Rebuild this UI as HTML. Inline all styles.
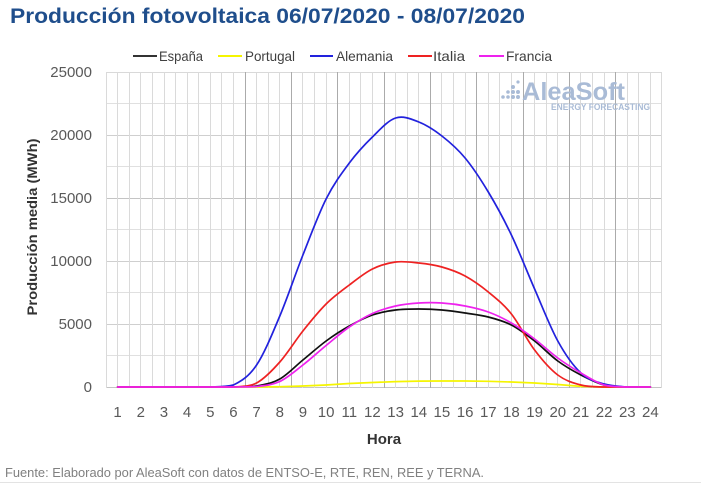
<!DOCTYPE html>
<html><head><meta charset="utf-8"><style>
html,body{margin:0;padding:0;background:#fff;}
svg{display:block;}
text{font-family:"Liberation Sans",sans-serif;}
</style></head><body>
<svg width="701" height="484" viewBox="0 0 701 484" xmlns="http://www.w3.org/2000/svg">
<rect width="701" height="484" fill="#fff"/>
<text x="10" y="23" font-size="21" font-weight="bold" fill="#1f4e8c" textLength="515" lengthAdjust="spacingAndGlyphs">Producción fotovoltaica 06/07/2020 - 08/07/2020</text>

<!-- legend -->
<g stroke-width="2">
<line x1="133" y1="56" x2="157" y2="56" stroke="#333"/>
<line x1="218" y1="56" x2="242" y2="56" stroke="#f5f500"/>
<line x1="310" y1="56" x2="333" y2="56" stroke="#2222dd"/>
<line x1="408" y1="56" x2="432" y2="56" stroke="#ee2222"/>
<line x1="479" y1="56" x2="504" y2="56" stroke="#ee22ee"/>
</g>
<g font-size="14" fill="#404040">
<text x="159" y="61" textLength="44" lengthAdjust="spacingAndGlyphs">España</text>
<text x="245" y="61" textLength="50" lengthAdjust="spacingAndGlyphs">Portugal</text>
<text x="336" y="61" textLength="57" lengthAdjust="spacingAndGlyphs">Alemania</text>
<text x="433" y="61" textLength="32" lengthAdjust="spacingAndGlyphs">Italia</text>
<text x="506" y="61" textLength="46" lengthAdjust="spacingAndGlyphs">Francia</text>
</g>

<!-- horizontal grid -->
<g stroke-width="1">
<line x1="106" y1="72.5" x2="662" y2="72.5" stroke="#d9d9d9"/>
<line x1="106" y1="103.5" x2="662" y2="103.5" stroke="#e0e0e0"/>
<line x1="106" y1="135.5" x2="662" y2="135.5" stroke="#cfcfcf"/>
<line x1="106" y1="166.5" x2="662" y2="166.5" stroke="#e0e0e0"/>
<line x1="106" y1="198.5" x2="662" y2="198.5" stroke="#c4c4c4"/>
<line x1="106" y1="229.5" x2="662" y2="229.5" stroke="#e0e0e0"/>
<line x1="106" y1="261.5" x2="662" y2="261.5" stroke="#cfcfcf"/>
<line x1="106" y1="292.5" x2="662" y2="292.5" stroke="#e0e0e0"/>
<line x1="106" y1="324.5" x2="662" y2="324.5" stroke="#cfcfcf"/>
<line x1="106" y1="355.5" x2="662" y2="355.5" stroke="#e0e0e0"/>
<line x1="106" y1="387.5" x2="662" y2="387.5" stroke="#c4c4c4"/>
</g>
<!-- vertical grid -->
<g stroke="#dadada" stroke-width="1">
<line x1="106.5" y1="72" x2="106.5" y2="388"/>
<line x1="117.5" y1="72" x2="117.5" y2="388"/>
<line x1="129.5" y1="72" x2="129.5" y2="388"/>
<line x1="140.5" y1="72" x2="140.5" y2="388"/>
<line x1="152.5" y1="72" x2="152.5" y2="388"/>
<line x1="164.5" y1="72" x2="164.5" y2="388"/>
<line x1="175.5" y1="72" x2="175.5" y2="388"/>
<line x1="187.5" y1="72" x2="187.5" y2="388"/>
<line x1="198.5" y1="72" x2="198.5" y2="388"/>
<line x1="210.5" y1="72" x2="210.5" y2="388"/>
<line x1="221.5" y1="72" x2="221.5" y2="388"/>
<line x1="233.5" y1="72" x2="233.5" y2="388"/>
<line x1="256.5" y1="72" x2="256.5" y2="388"/>
<line x1="268.5" y1="72" x2="268.5" y2="388"/>
<line x1="279.5" y1="72" x2="279.5" y2="388"/>
<line x1="302.5" y1="72" x2="302.5" y2="388"/>
<line x1="314.5" y1="72" x2="314.5" y2="388"/>
<line x1="326.5" y1="72" x2="326.5" y2="388"/>
<line x1="349.5" y1="72" x2="349.5" y2="388"/>
<line x1="360.5" y1="72" x2="360.5" y2="388"/>
<line x1="372.5" y1="72" x2="372.5" y2="388"/>
<line x1="395.5" y1="72" x2="395.5" y2="388"/>
<line x1="407.5" y1="72" x2="407.5" y2="388"/>
<line x1="418.5" y1="72" x2="418.5" y2="388"/>
<line x1="441.5" y1="72" x2="441.5" y2="388"/>
<line x1="453.5" y1="72" x2="453.5" y2="388"/>
<line x1="465.5" y1="72" x2="465.5" y2="388"/>
<line x1="488.5" y1="72" x2="488.5" y2="388"/>
<line x1="499.5" y1="72" x2="499.5" y2="388"/>
<line x1="511.5" y1="72" x2="511.5" y2="388"/>
<line x1="534.5" y1="72" x2="534.5" y2="388"/>
<line x1="546.5" y1="72" x2="546.5" y2="388"/>
<line x1="557.5" y1="72" x2="557.5" y2="388"/>
<line x1="580.5" y1="72" x2="580.5" y2="388"/>
<line x1="592.5" y1="72" x2="592.5" y2="388"/>
<line x1="604.5" y1="72" x2="604.5" y2="388"/>
<line x1="627.5" y1="72" x2="627.5" y2="388"/>
<line x1="638.5" y1="72" x2="638.5" y2="388"/>
<line x1="650.5" y1="72" x2="650.5" y2="388"/>
<line x1="661.5" y1="72" x2="661.5" y2="388"/>
</g>
<g stroke="#ababab" stroke-width="1">
<line x1="245.5" y1="72" x2="245.5" y2="388"/>
<line x1="291.5" y1="72" x2="291.5" y2="388"/>
<line x1="337.5" y1="72" x2="337.5" y2="388"/>
<line x1="384.5" y1="72" x2="384.5" y2="388"/>
<line x1="430.5" y1="72" x2="430.5" y2="388"/>
<line x1="476.5" y1="72" x2="476.5" y2="388"/>
<line x1="523.5" y1="72" x2="523.5" y2="388"/>
<line x1="569.5" y1="72" x2="569.5" y2="388"/>
<line x1="615.5" y1="72" x2="615.5" y2="388"/>
</g>

<!-- logo -->
<g fill="#a9bbd6">
<circle cx="503" cy="97" r="1.8"/>
<circle cx="508" cy="97" r="1.8"/>
<circle cx="508" cy="92" r="1.8"/>
<circle cx="513" cy="97" r="2"/>
<circle cx="513" cy="92" r="2"/>
<circle cx="513" cy="87" r="2"/>
<circle cx="518" cy="97" r="2"/>
<circle cx="518" cy="92" r="2"/>
<circle cx="518" cy="82" r="1.6"/>
</g>
<text x="522" y="100" font-size="25" font-weight="bold" fill="#a9bbd6" textLength="103" lengthAdjust="spacingAndGlyphs">AleaSoft</text>
<text x="551" y="110" font-size="9" font-weight="bold" fill="#a9bbd6" textLength="99" lengthAdjust="spacingAndGlyphs">ENERGY FORECASTING</text>

<!-- series -->
<g fill="none" stroke-width="1.7" stroke-linejoin="round" stroke-linecap="round">
<path stroke="#111" d="M117.6,387 L233.4,387 C241.1,386.8 248.9,387 256.6,386 C264.3,384.7 272.1,383.3 279.8,379 C287.5,374.7 295.2,366.3 302.9,360 C310.6,353.7 318.4,346.7 326.1,341 C333.8,335.3 341.6,330.3 349.3,326 C357,321.7 364.7,317.7 372.4,315 C380.1,312.3 387.9,311 395.6,310 C403.3,309 411.1,309 418.8,309 C426.5,309 434.2,309.3 441.9,310 C449.6,310.7 457.4,311.8 465.1,313 C472.8,314.2 480.6,315 488.3,317 C496,319 503.7,321 511.4,325 C519.1,329 526.9,335 534.6,341 C542.3,347 550.1,355.3 557.8,361 C565.5,366.7 573.2,371 580.9,375 C588.6,379 596.4,383 604.1,385 C611.8,387 619.6,386.7 627.3,387 L650.4,387"/>
<path stroke="#f5f500" d="M117.6,387 L256.6,387 L279.8,386.7 L302.9,386 L326.1,385 L349.3,383.5 L372.4,382.5 L395.6,381.6 L418.8,381.1 L441.9,381 L465.1,381 L488.3,381.3 L511.4,382 L534.6,383 L557.8,384.5 L580.9,386.4 L604.1,387 L650.4,387"/>
<path stroke="#2222dd" d="M117.6,387 L210.3,387 C218,386.7 225.7,387 233.4,385 C241.1,381.3 248.9,376.5 256.6,365 C264.3,353.5 272.1,334.3 279.8,316 C287.5,297.7 295.2,274.5 302.9,255 C310.6,235.5 318.4,214.3 326.1,199 C333.8,183.7 341.6,173.3 349.3,163 C357,152.7 364.7,144.5 372.4,137 C380.1,129.5 387.9,120.5 395.6,118 C403.3,115.5 411.1,119 418.8,122 C426.5,125 434.2,130 441.9,136 C449.6,142 457.4,148.7 465.1,158 C472.8,167.3 480.6,179.2 488.3,192 C496,204.8 503.7,218.8 511.4,235 C519.1,251.2 526.9,271.3 534.6,289 C542.3,306.7 550.1,327 557.8,341 C565.5,355 573.2,365.8 580.9,373 C588.6,380.2 596.4,381.7 604.1,384 C611.8,386.3 619.6,386.5 627.3,387 L650.4,387"/>
<path stroke="#ee2222" d="M117.6,387 L233.4,387 C241.1,386.3 248.9,387 256.6,383 C264.3,378.8 272.1,370.7 279.8,362 C287.5,353.3 295.2,340.7 302.9,331 C310.6,321.3 318.4,311.7 326.1,304 C333.8,296.3 341.6,290.8 349.3,285 C357,279.2 364.7,272.8 372.4,269 C380.1,265.2 387.9,263 395.6,262 C403.3,261 411.1,262.2 418.8,263 C426.5,263.8 434.2,264.8 441.9,267 C449.6,269.2 457.4,271.8 465.1,276 C472.8,280.2 480.6,285.7 488.3,292 C496,298.3 503.7,304.3 511.4,314 C519.1,323.7 526.9,339.8 534.6,350 C542.3,360.2 550.1,369.2 557.8,375 C565.5,380.8 573.2,383 580.9,385 C588.6,387 596.4,386.7 604.1,387 L650.4,387"/>
<path stroke="#ee22ee" d="M117.6,387 L233.4,387 C241.1,386.9 248.9,387 256.6,386.5 C264.3,385.6 272.1,385.1 279.8,381.5 C287.5,377.9 295.2,371 302.9,365 C310.6,359 318.4,351.8 326.1,345.5 C333.8,339.2 341.6,332.3 349.3,327 C357,321.7 364.7,317 372.4,313.5 C380.1,310 387.9,307.8 395.6,306 C403.3,304.3 411.1,303.5 418.8,303 C426.5,302.5 434.2,302.5 441.9,303 C449.6,303.5 457.4,304.5 465.1,306 C472.8,307.5 480.6,309.2 488.3,312 C496,314.8 503.7,318.5 511.4,323 C519.1,327.5 526.9,333.2 534.6,339 C542.3,344.8 550.1,352.3 557.8,358 C565.5,363.7 573.2,368.5 580.9,373 C588.6,377.5 596.4,382.7 604.1,385 C611.8,387 619.6,386.7 627.3,387 L650.4,387"/>
</g>

<!-- y axis labels -->
<g font-size="15" fill="#595959" text-anchor="end">
<text x="92" y="77">25000</text>
<text x="92" y="140">20000</text>
<text x="92" y="203">15000</text>
<text x="92" y="266">10000</text>
<text x="92" y="329">5000</text>
<text x="92" y="392">0</text>
</g>
<!-- x axis labels -->
<g font-size="15" fill="#595959" text-anchor="middle">
<text x="117.6" y="417">1</text>
<text x="140.8" y="417">2</text>
<text x="163.9" y="417">3</text>
<text x="187.1" y="417">4</text>
<text x="210.3" y="417">5</text>
<text x="233.4" y="417">6</text>
<text x="256.6" y="417">7</text>
<text x="279.8" y="417">8</text>
<text x="302.9" y="417">9</text>
<text x="326.1" y="417">10</text>
<text x="349.3" y="417">11</text>
<text x="372.4" y="417">12</text>
<text x="395.6" y="417">13</text>
<text x="418.8" y="417">14</text>
<text x="441.9" y="417">15</text>
<text x="465.1" y="417">16</text>
<text x="488.3" y="417">17</text>
<text x="511.4" y="417">18</text>
<text x="534.6" y="417">19</text>
<text x="557.8" y="417">20</text>
<text x="580.9" y="417">21</text>
<text x="604.1" y="417">22</text>
<text x="627.3" y="417">23</text>
<text x="650.4" y="417">24</text>
</g>
<text x="384" y="444" font-size="15" font-weight="bold" fill="#333" text-anchor="middle">Hora</text>
<text transform="translate(37,227) rotate(-90)" font-size="14" font-weight="bold" fill="#333" text-anchor="middle" textLength="177" lengthAdjust="spacingAndGlyphs">Producción media (MWh)</text>

<text x="5" y="477" font-size="12.5" fill="#808080" textLength="479" lengthAdjust="spacingAndGlyphs">Fuente: Elaborado por AleaSoft con datos de ENTSO-E, RTE, REN, REE y TERNA.</text>
<line x1="0" y1="482.5" x2="701" y2="482.5" stroke="#e3e3e3" stroke-width="1"/>
</svg>
</body></html>
